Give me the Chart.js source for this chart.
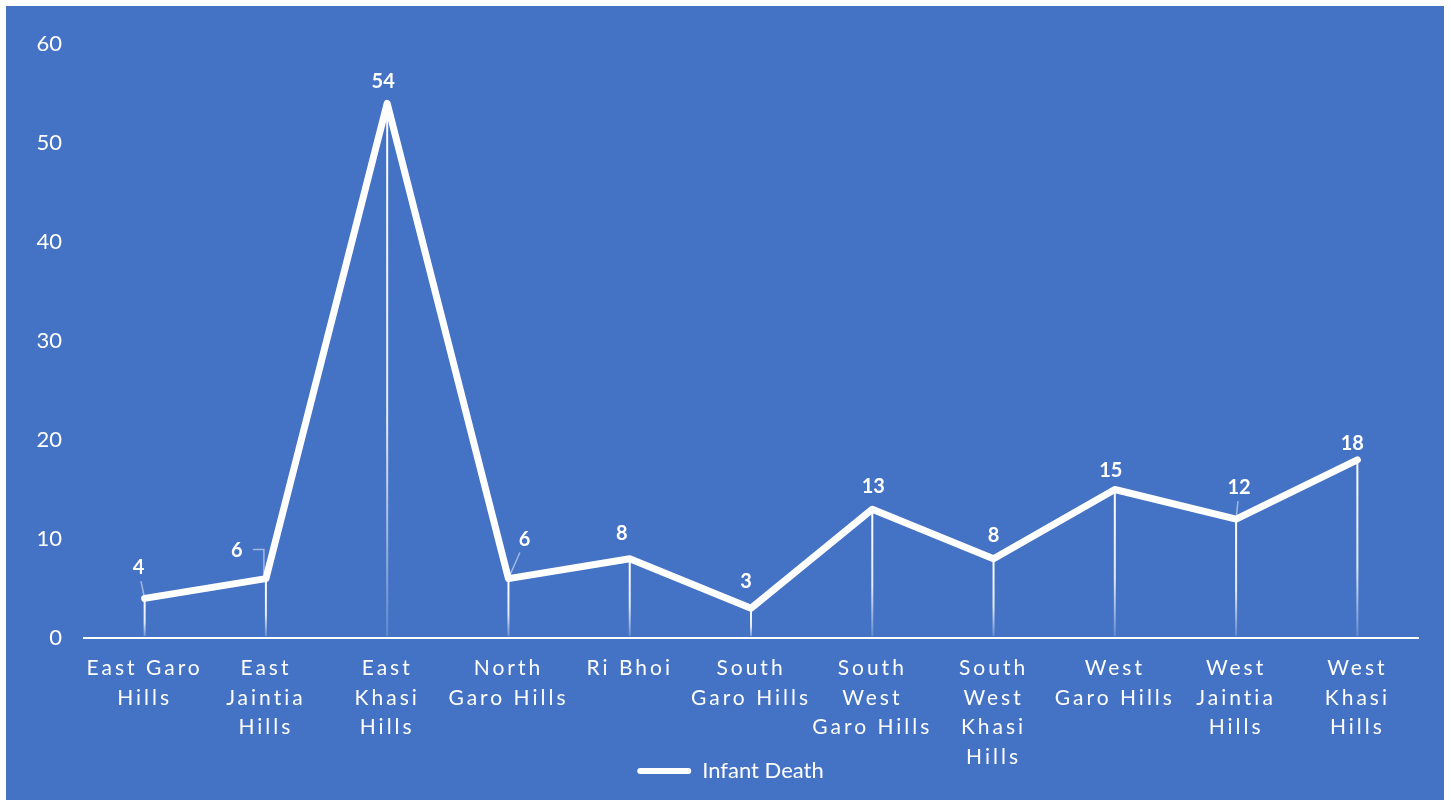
<!DOCTYPE html>
<html>
<head>
<meta charset="utf-8">
<script src="https://cdn.jsdelivr.net/npm/chart.js@4.4.1/dist/chart.umd.min.js"></script>
<style>
  html, body { margin: 0; padding: 0; background: #fff; }
  #wrap { width: 1451px; height: 802px; }
</style>
</head>
<body>
<div id="wrap"><canvas id="myChart"></canvas></div>
<script>
// data
var districts = [
  ['East Garo', 'Hills'],
  ['East', 'Jaintia', 'Hills'],
  ['East', 'Khasi', 'Hills'],
  ['North', 'Garo Hills'],
  ['Ri Bhoi'],
  ['South', 'Garo Hills'],
  ['South', 'West', 'Garo Hills'],
  ['South', 'West', 'Khasi', 'Hills'],
  ['West', 'Garo Hills'],
  ['West', 'Jaintia', 'Hills'],
  ['West', 'Khasi', 'Hills']
];
var infantDeath = [4, 6, 54, 6, 8, 3, 13, 8, 15, 12, 18];
var yTicks = [0, 10, 20, 30, 40, 50, 60];
var seriesName = 'Infant Death';

// where each value label sits relative to its point (px), and which ones get a leader line
var labelNudge = [[-6, -31], [-29, -28], [-4, -22], [16, -39], [-8, -25], [-5, -27],
                  [1, -23], [0, -23], [-4, -19], [3, -32], [-5, -16]];
var leader = [1, 2, 0, 1, 0, 0, 0, 0, 0, 1, 0]; // 2 = elbow

var BLUE = '#4472C4';
var FONT = 'Lato, "Liberation Sans", sans-serif';

var bgPlugin = {
  id: 'bg',
  beforeDraw: function(chart) {
    var c = chart.ctx;
    c.save();
    c.fillStyle = '#ffffff';
    c.fillRect(0, 0, chart.width, chart.height);
    c.fillStyle = BLUE;
    c.fillRect(6, 6, 1438, 794);
    c.restore();
  },
  afterUpdate: function(chart) {
    // don't clip tick labels to the (forced) axis boxes
    var y = chart.scales.y;
    if (y) y._computeLabelArea = function() { return undefined; };
    // spaced-out category labels like the original
    var s = chart.scales.x;
    if (s && !s._spaced) {
      var orig = s.drawLabels.bind(s);
      s._computeLabelArea = function() { return undefined; };
      s.drawLabels = function(area) {
        var c = this.ctx;
        c.save();
        c.letterSpacing = '3px';
        orig(area);
        c.restore();
      };
      s._spaced = true;
    }
  }
};

var dropLines = {
  id: 'dropLines',
  beforeDatasetsDraw: function(chart) {
    var c = chart.ctx;
    var meta = chart.getDatasetMeta(0);
    var base = chart.scales.y.getPixelForValue(0);
    c.save();
    meta.data.forEach(function(pt) {
      var g = c.createLinearGradient(0, pt.y, 0, base);
      g.addColorStop(0, 'rgba(255,255,255,1)');
      g.addColorStop(0.6, 'rgba(255,255,255,0.85)');
      g.addColorStop(1, 'rgba(255,255,255,0.15)');
      c.strokeStyle = g;
      c.lineWidth = 2;
      c.beginPath();
      c.moveTo(pt.x, pt.y);
      c.lineTo(pt.x, base - 2);
      c.stroke();
    });
    c.restore();
  }
};

var valueLabels = {
  id: 'valueLabels',
  afterDatasetsDraw: function(chart) {
    var c = chart.ctx;
    var meta = chart.getDatasetMeta(0);
    c.save();
    c.font = 'bold 20px ' + FONT;
    c.fillStyle = '#ffffff';
    c.textAlign = 'center';
    c.textBaseline = 'middle';
    meta.data.forEach(function(pt, i) {
      var lx = pt.x + labelNudge[i][0];
      var ly = pt.y + labelNudge[i][1];
      c.fillText(String(infantDeath[i]), lx, ly);
      if (leader[i]) {
        c.strokeStyle = 'rgba(255,255,255,0.5)';
        c.lineWidth = 1.5;
        c.beginPath();
        if (leader[i] === 2) {
          c.moveTo(lx + 16, ly - 1);
          c.lineTo(pt.x - 2, ly - 1);
          c.lineTo(pt.x - 2, pt.y - 4);
        } else {
          var dx = pt.x - lx, dy = pt.y - ly;
          var len = Math.sqrt(dx * dx + dy * dy);
          c.moveTo(lx + dx * 12 / len, ly + dy * 14 / len);
          c.lineTo(pt.x - dx * 2 / len, pt.y - dy * 2 / len);
        }
        c.stroke();
      }
    });
    c.restore();
  }
};

new Chart(document.getElementById('myChart'), {
  type: 'line',
  data: {
    labels: districts,
    datasets: [{
      label: seriesName,
      data: infantDeath,
      borderColor: '#ffffff',
      backgroundColor: '#ffffff',
      borderWidth: 7,
      borderCapStyle: 'round',
      borderJoinStyle: 'round',
      pointRadius: 0,
      tension: 0
    }]
  },
  options: {
    responsive: true,
    maintainAspectRatio: false,
    animation: false,
    layout: { padding: { top: 44, right: 33, bottom: 10, left: 43 } },
    scales: {
      x: {
        offset: true,
        grid: { display: false, drawTicks: false },
        border: { display: true, color: '#ffffff', width: 2 },
        ticks: {
          color: '#ffffff',
          font: { family: FONT, size: 21, lineHeight: 1.4 },
          padding: 16,
          autoSkip: false,
          maxRotation: 0
        },
        afterFit: function(scale) { scale.height = 114; }
      },
      y: {
        min: 0,
        max: 60,
        afterBuildTicks: function(scale) {
          scale.ticks = yTicks.map(function(v) { return { value: v }; });
        },
        afterFit: function(scale) { scale.width = 41; },
        grid: { display: false, drawTicks: false },
        border: { display: false },
        ticks: {
          color: '#ffffff',
          font: { family: FONT, size: 22 },
          padding: 22
        }
      }
    },
    plugins: {
      legend: {
        position: 'bottom',
        labels: {
          color: '#ffffff',
          font: { family: FONT, size: 22 },
          boxWidth: 54,
          boxHeight: 6,
          padding: 8,
          generateLabels: function(chart) {
            return [{
              text: seriesName,
              fillStyle: '#ffffff',
              strokeStyle: '#ffffff',
              lineWidth: 0,
              borderRadius: 3,
              fontColor: '#ffffff',
              datasetIndex: 0
            }];
          }
        }
      },
      tooltip: { enabled: false }
    }
  },
  plugins: [bgPlugin, dropLines, valueLabels]
});
</script>
</body>
</html>
